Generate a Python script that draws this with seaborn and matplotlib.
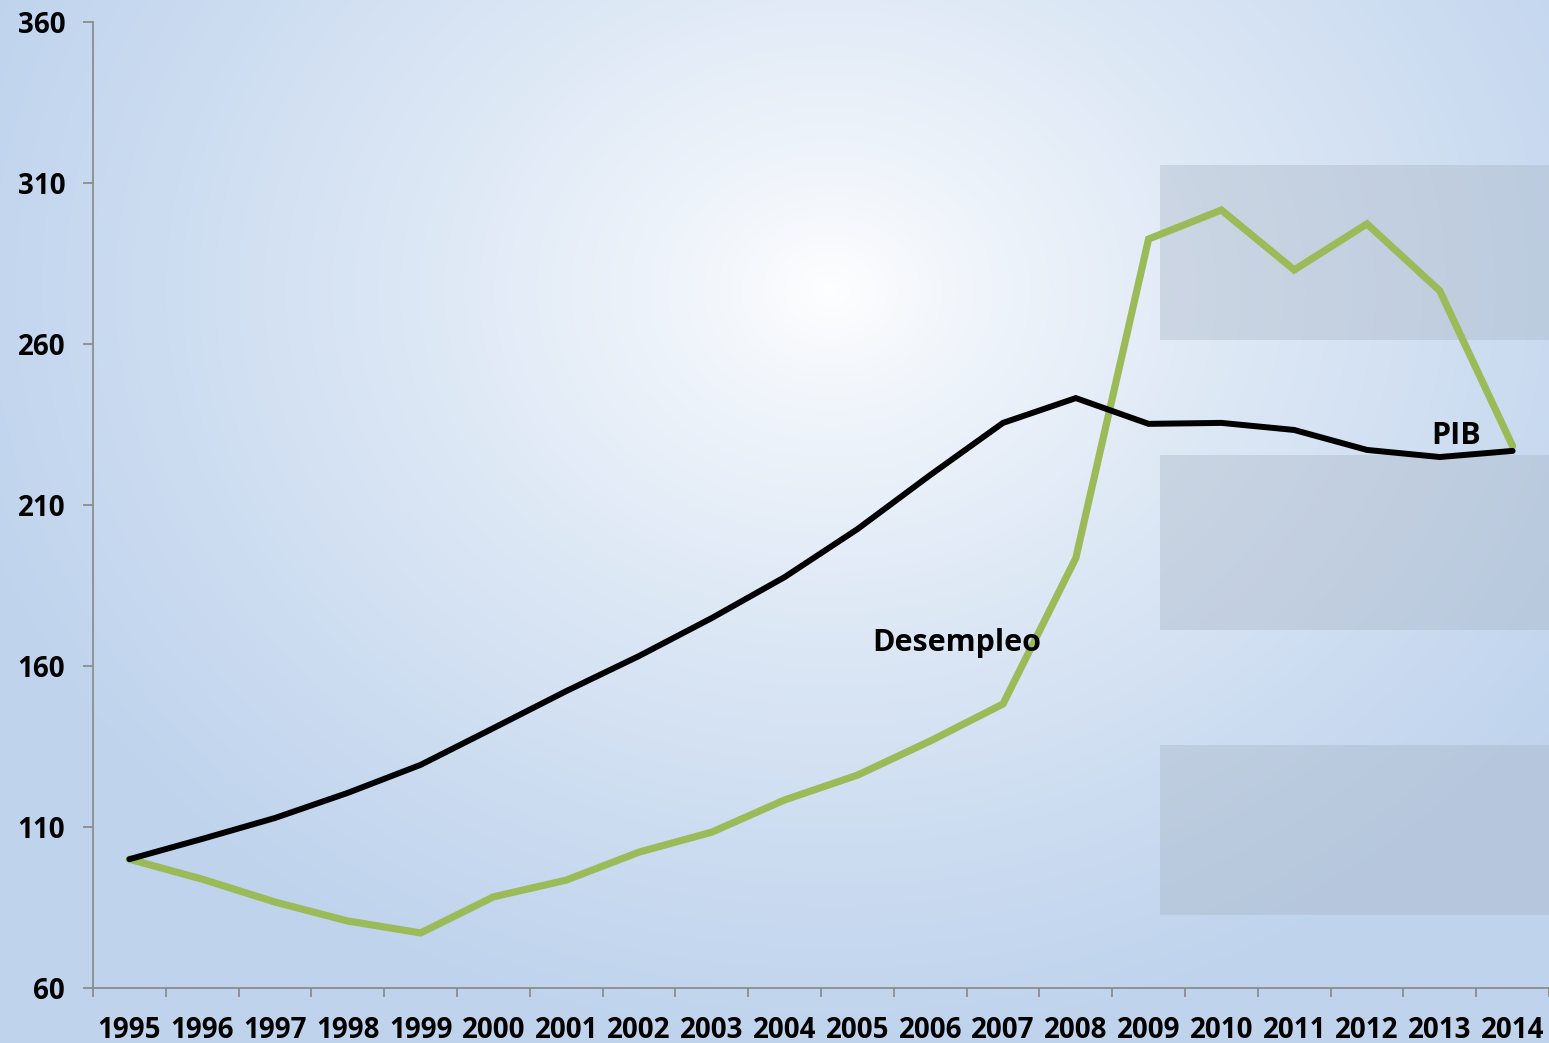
import numpy as np
import pandas as pd
import matplotlib
matplotlib.use("Agg")
from matplotlib import pyplot as plt
from matplotlib.patches import Rectangle
import seaborn as sns

years = list(range(1995, 2015))
pib = [100, 106.3, 112.8, 120.6, 129.3, 140.7, 152.2, 163.1, 174.9, 187.6,
       202.5, 219.3, 235.5, 243.2, 235.2, 235.5, 233.3, 227.1, 224.9, 226.8]
desempleo = [100, 93.8, 86.7, 80.8, 77.1, 88.3, 93.5, 102.2, 108.4, 118.4,
             126.1, 136.7, 148.2, 193.5, 292.6, 301.6, 283.0, 297.3, 276.5, 228.3]
y_ticks = [60, 110, 160, 210, 260, 310, 360]

df = pd.DataFrame({'year': years + years,
                   'value': desempleo + pib,
                   'serie': ['Desempleo'] * len(years) + ['PIB'] * len(years)})

sns.set_style("white")
plt.rcParams['font.family'] = ['Open Sans', 'DejaVu Sans']
plt.rcParams['font.weight'] = 'bold'
plt.rcParams['text.color'] = 'black'
plt.rcParams['xtick.labelcolor'] = 'black'
plt.rcParams['ytick.labelcolor'] = 'black'

fig = plt.figure(figsize=(15.49, 10.43), dpi=100)

# background: light blue with a white glow near the middle
bg = fig.add_axes([0, 0, 1, 1], zorder=0)
h, w = 1043, 1549
yy, xx = np.mgrid[0:h, 0:w]
d = np.sqrt(((xx - 830) / 900.0) ** 2 + ((yy - 290) / 750.0) ** 2)
t = np.clip(d, 0, 1) ** 0.8
edge = np.array([0.75, 0.83, 0.93])
centre = np.array([1.0, 1.0, 1.0])
img = centre[None, None, :] * (1 - t[..., None]) + edge[None, None, :] * t[..., None]
bg.imshow(img, extent=[0, w, h, 0], aspect='auto')
for top, bottom in [(165, 340), (455, 630), (745, 915)]:
    bg.add_patch(Rectangle((1160, top), w - 1160, bottom - top,
                           facecolor='#a4b0c0', alpha=0.35, edgecolor='none'))
bg.set_xlim(0, w)
bg.set_ylim(h, 0)
bg.axis('off')

ax = fig.add_axes([93 / 1549, 1 - 988 / 1043, 1 - 93 / 1549, (988 - 22) / 1043], zorder=1)
ax.patch.set_alpha(0)
sns.lineplot(data=df, x='year', y='value', hue='serie',
             palette={'Desempleo': '#9bbb59', 'PIB': '#000000'},
             ax=ax, legend=False, linewidth=5, sort=False)
for line, lw in zip(ax.lines, [5.2, 4.3]):
    line.set_linewidth(lw)
    line.set_solid_joinstyle('miter')
ax.lines[1].set_zorder(3)

ax.set_xlim(1994.5, 2014.5)
ax.set_ylim(60, 360)
ax.set_xticks(years)
ax.set_xticklabels([str(y) for y in years])
ax.set_xticks(np.arange(1994.5, 2015, 1), minor=True)
ax.set_yticks(y_ticks)
ax.tick_params(axis='x', which='major', length=0, pad=20, labelsize=20, labelcolor='black')
ax.tick_params(axis='x', which='minor', length=6.5, width=1.3, color='#8c8c8c', direction='out', bottom=True)
ax.tick_params(axis='y', length=7, width=1.3, color='#8c8c8c', direction='out', left=True, pad=13,
               labelsize=20, labelcolor='black')
for lab in ax.get_xticklabels() + ax.get_yticklabels():
    lab.set_fontweight('bold')
ax.set_xlabel('')
ax.set_ylabel('')
for s in ['top', 'right']:
    ax.spines[s].set_visible(False)
for s in ['left', 'bottom']:
    ax.spines[s].set_color('#8c8c8c')
    ax.spines[s].set_linewidth(1.3)

ax.text(2006.37, 167, 'Desempleo', ha='center', va='center', fontsize=22, fontweight='bold', color='black')
ax.text(2013.23, 231.5, 'PIB', ha='center', va='center', fontsize=22, fontweight='bold', color='black')

fig.savefig('out.png', dpi=100)
